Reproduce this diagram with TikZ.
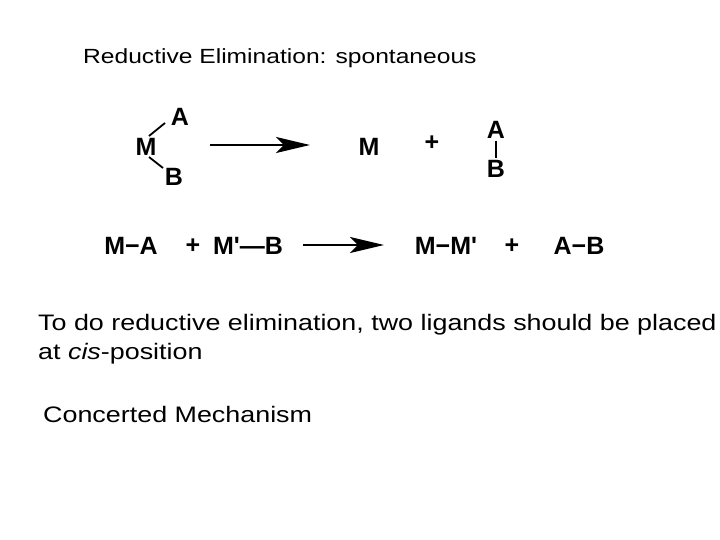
\documentclass[tikz,border=0pt]{standalone}
\usepackage{fontspec}
\setmainfont{Liberation Sans}
\usetikzlibrary{arrows.meta}
\begin{document}
\begin{tikzpicture}[x=1pt,y=-1pt,
  chem/.style={font=\fontsize{25}{28}\selectfont\bfseries, inner sep=0pt},
  txt/.style={font=\fontsize{22.4}{26}\selectfont, inner sep=0pt, anchor=west},
  bond/.style={line width=1.8pt},
  rxn/.style={line width=2.6pt, -{Stealth[length=34pt,width=16pt,inset=8pt]}}]
\useasboundingbox (0,0) rectangle (720,540);
\node[txt,font=\fontsize{20.5}{24}\selectfont] (title) at (83,58) {\scalebox{1.2}[1]{Reductive Elimination: spontaneous}};
\node[chem] (m1) at (146,147) {M};
\node[chem] (a1) at (180,117) {A};
\node[chem] (b1) at (174,177) {B};
\coordinate (ba1) at (149,136); \coordinate (ba2) at (165,123);
\coordinate (bb1) at (149,157); \coordinate (bb2) at (163,168);
\draw[bond] (ba1) -- (ba2);
\draw[bond] (bb1) -- (bb2);
\coordinate (r1s) at (210,145);
\coordinate (r1e) at (310,145);
\draw[rxn] (r1s) -- (r1e);
\node[chem] (m2) at (369,147) {M};
\node[chem] (p1) at (432,143) {+};
\node[chem] (a2) at (496,130) {A};
\node[chem] (b2) at (496,169) {B};
\draw[bond] ([yshift=-2pt]a2.south) -- ([yshift=2pt]b2.north);
\node[chem] (ma) at (131,246) {M−A};
\node[chem] (p2) at (193,246) {+};
\node[chem] (mb) at (248,246) {M\textquotesingle—B};
\coordinate (r2s) at (303,245);
\coordinate (r2e) at (384,245);
\draw[rxn] (r2s) -- (r2e);
\node[chem] (mm) at (446,246) {M−M\textquotesingle};
\node[chem] (p3) at (512,246) {+};
\node[chem] (ab) at (579,246) {A−B};
\node[txt] (l1) at (38,325) {\scalebox{1.2}[1]{To do reductive elimination, two ligands should be placed}};
\node[txt] (l2) at (38,354) {\scalebox{1.2}[1]{at \textit{cis}-position}};
\node[txt] (l3) at (43,414) {\scalebox{1.2}[1]{Concerted Mechanism}};
\end{tikzpicture}
\end{document}
